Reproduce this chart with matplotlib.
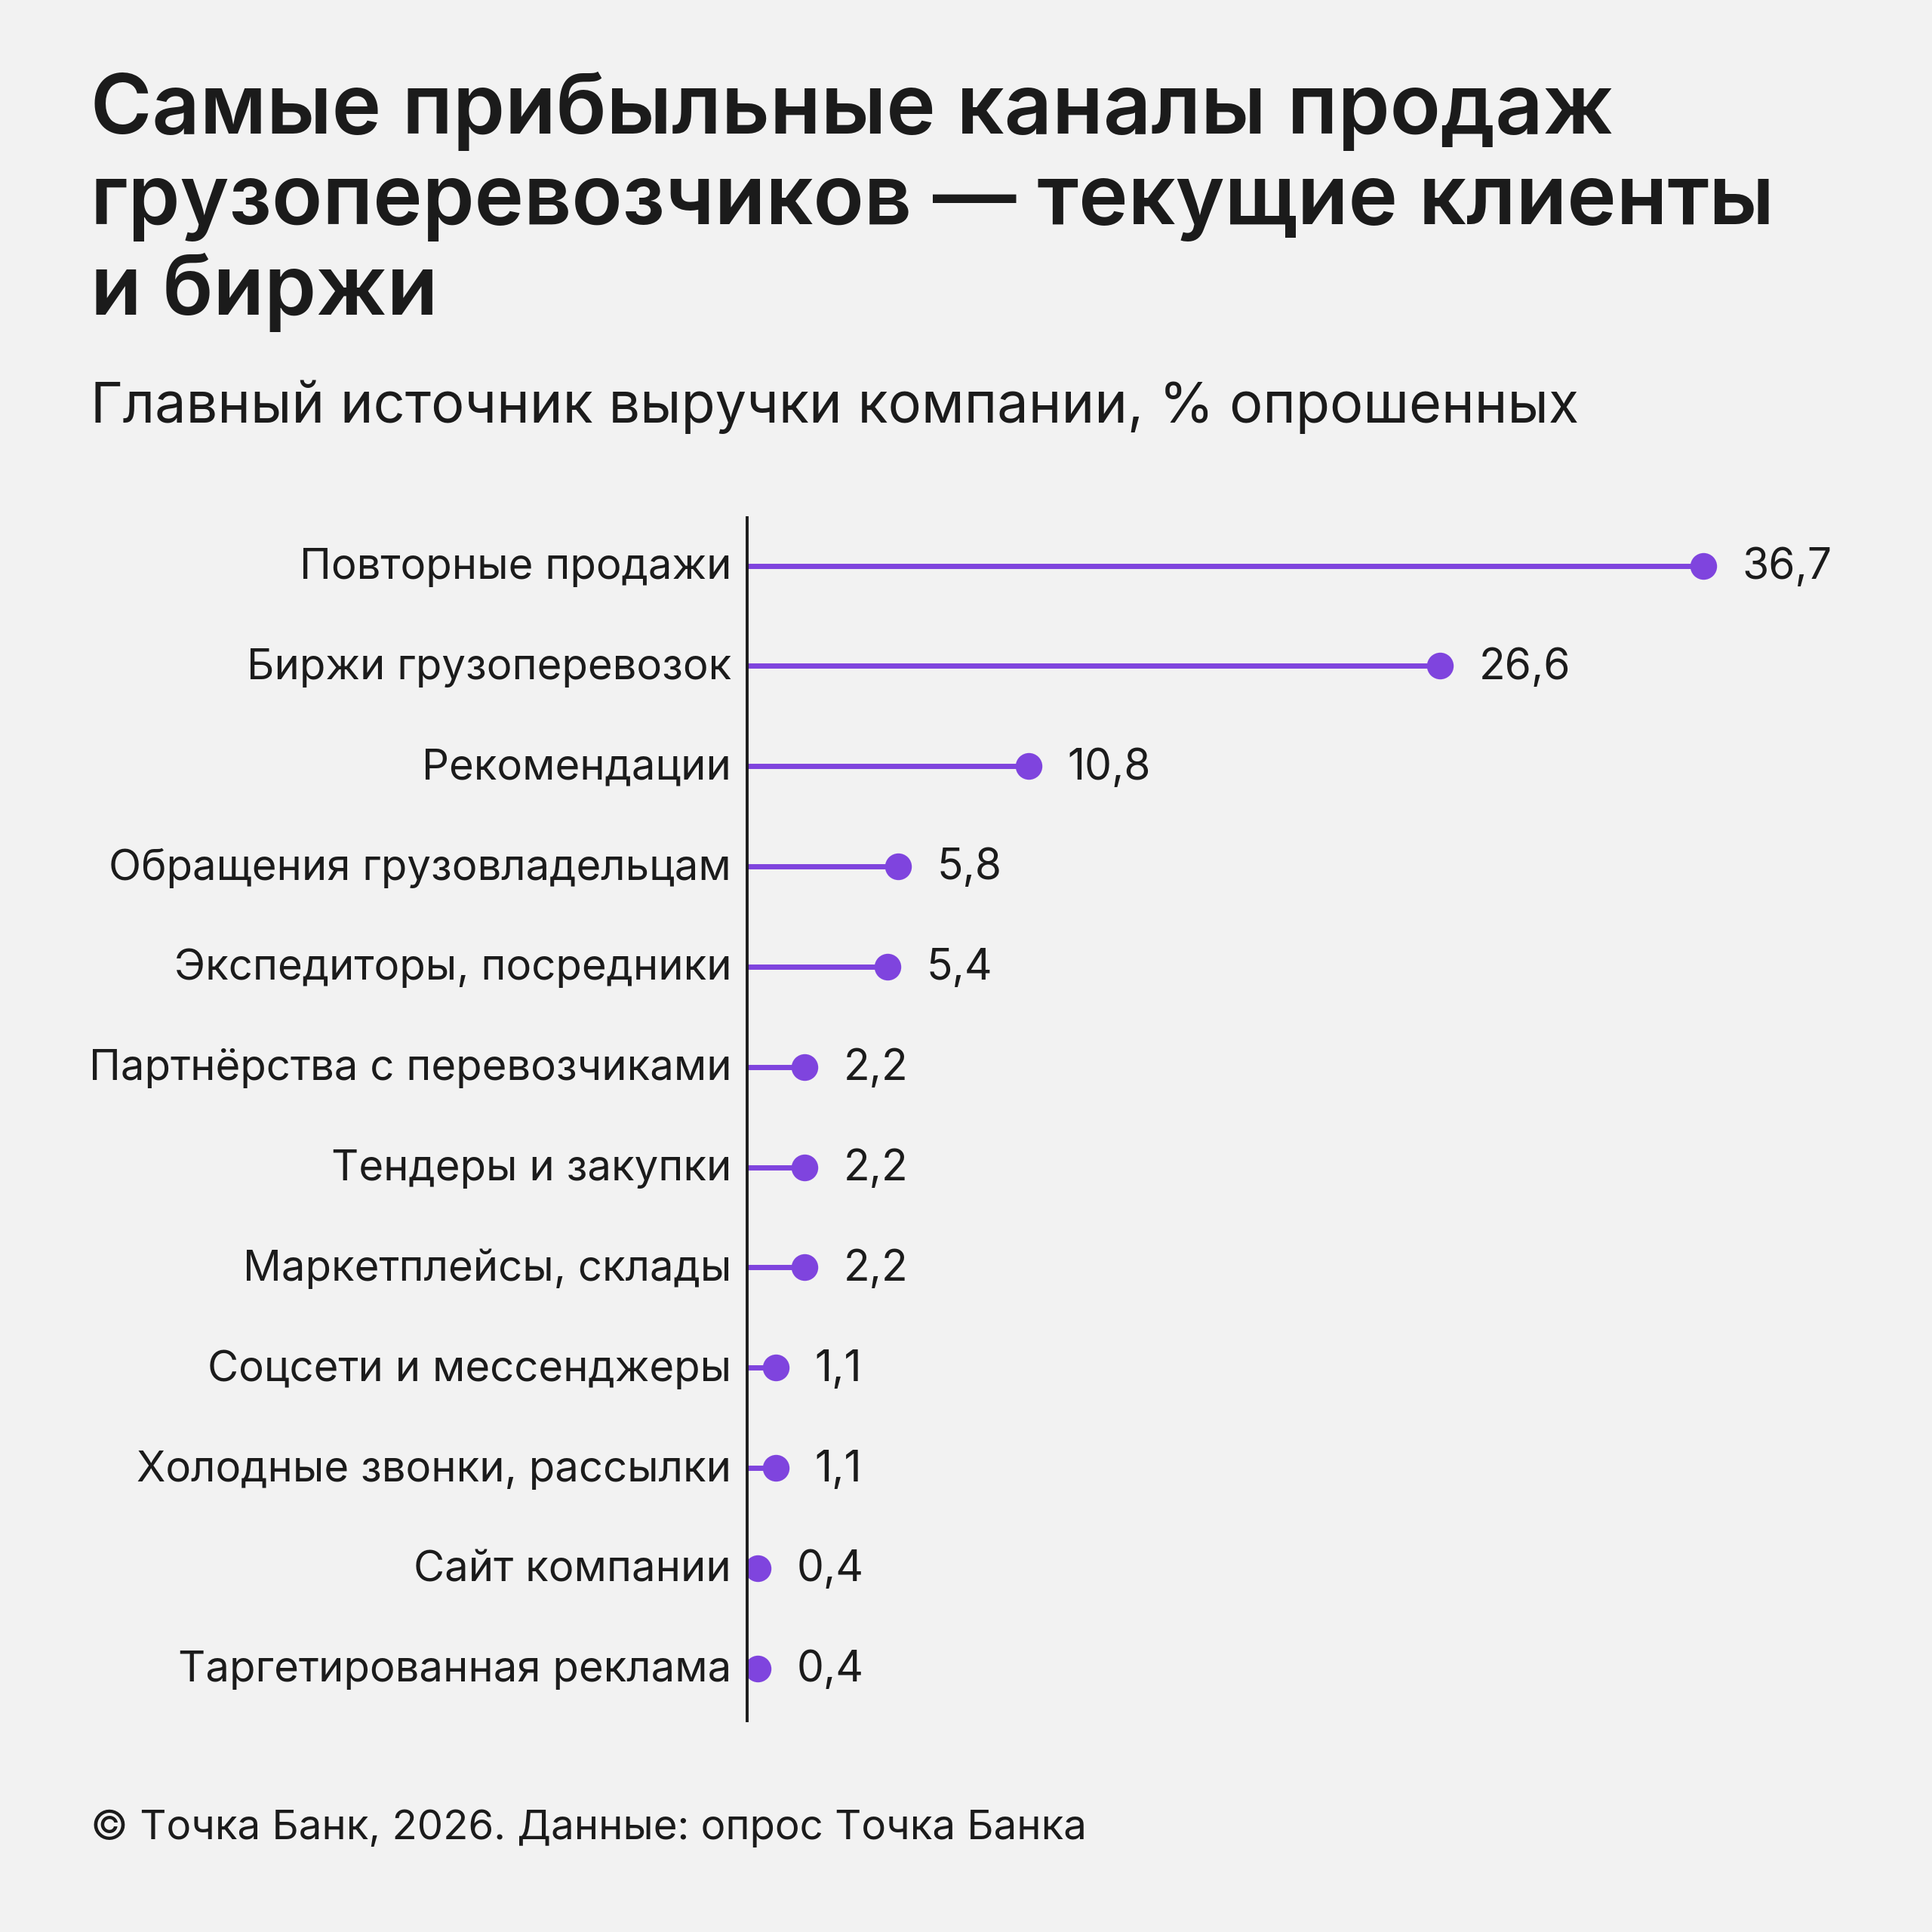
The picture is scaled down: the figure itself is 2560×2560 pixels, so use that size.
import matplotlib
matplotlib.use("Agg")
import matplotlib.pyplot as plt
from matplotlib.transforms import ScaledTranslation

plt.rcParams['font.family'] = ['Inter', 'DejaVu Sans']

categories = [
    "Повторные продажи",
    "Биржи грузоперевозок",
    "Рекомендации",
    "Обращения грузовладельцам",
    "Экспедиторы, посредники",
    "Партнёрства с перевозчиками",
    "Тендеры и закупки",
    "Маркетплейсы, склады",
    "Соцсети и мессенджеры",
    "Холодные звонки, рассылки",
    "Сайт компании",
    "Таргетированная реклама",
]
values = [36.7, 26.6, 10.8, 5.8, 5.4, 2.2, 2.2, 2.2, 1.1, 1.1, 0.4, 0.4]
value_labels = [f"{v:.1f}".replace(".", ",") for v in values]

title_lines = [
    "Самые прибыльные каналы продаж",
    "грузоперевозчиков — текущие клиенты",
    "и биржи",
]
subtitle = "Главный источник выручки компании, % опрошенных"
footer = "© Точка Банк, 2026. Данные: опрос Точка Банка"

BG = "#f2f2f2"
PURPLE = "#7f44de"
TEXT = "#1b1b1b"

W = 2560
fig = plt.figure(figsize=(25.6, 25.6), dpi=100, facecolor=BG)

def px_y(y):
    return 1 - y / W

# Title
for i, line in enumerate(title_lines):
    fig.text(120 / W, px_y(177 + i * 120), line, fontsize=79.6, fontweight="semibold",
             color=TEXT, ha="left", va="baseline")
fig.text(120 / W, px_y(560), subtitle, fontsize=53.1, color=TEXT,
         ha="left", va="baseline", fontweight="normal")
fig.text(120 / W, px_y(2437), footer, fontsize=39.3, color=TEXT,
         ha="left", va="baseline", fontweight="normal")

# Axes
left = 990 / W
top_px, bot_px = 686, 2280
ax = fig.add_axes([left, 1 - bot_px / W, 40 * 34.53 / W, (bot_px - top_px) / W])
ax.set_facecolor("none")
n = len(categories)
ypos = list(range(n))
ax.set_ylim(n - 1 + 0.52, -0.478)
ax.set_xlim(0, 40)

ax.hlines(ypos, 0, values, color=PURPLE, linewidth=5.0, zorder=2)
ax.plot(values, ypos, "o", color=PURPLE, markersize=25.5, markeredgewidth=0, zorder=3)

for v, y, lab in zip(values, ypos, value_labels):
    ax.annotate(lab, (v, y), xytext=(37, -12.5), textcoords="offset points",
                fontsize=41, color=TEXT, ha="left", va="baseline", fontweight="normal")

ax.set_yticks(ypos)
ax.set_yticklabels(categories, fontsize=40.5, color=TEXT, fontweight="normal")
ax.tick_params(axis="y", length=0, pad=15)
offset = ScaledTranslation(0, -17.5 / 100, fig.dpi_scale_trans)
for t in ax.get_yticklabels():
    t.set_verticalalignment("baseline")
    t.set_transform(t.get_transform() + offset)
ax.set_xticks([])
for s in ["top", "right", "bottom"]:
    ax.spines[s].set_visible(False)
ax.spines["left"].set_linewidth(2.8)
ax.spines["left"].set_color(TEXT)
ax.spines["left"].set_zorder(5)

fig.savefig("out.png", dpi=100, facecolor=BG)
